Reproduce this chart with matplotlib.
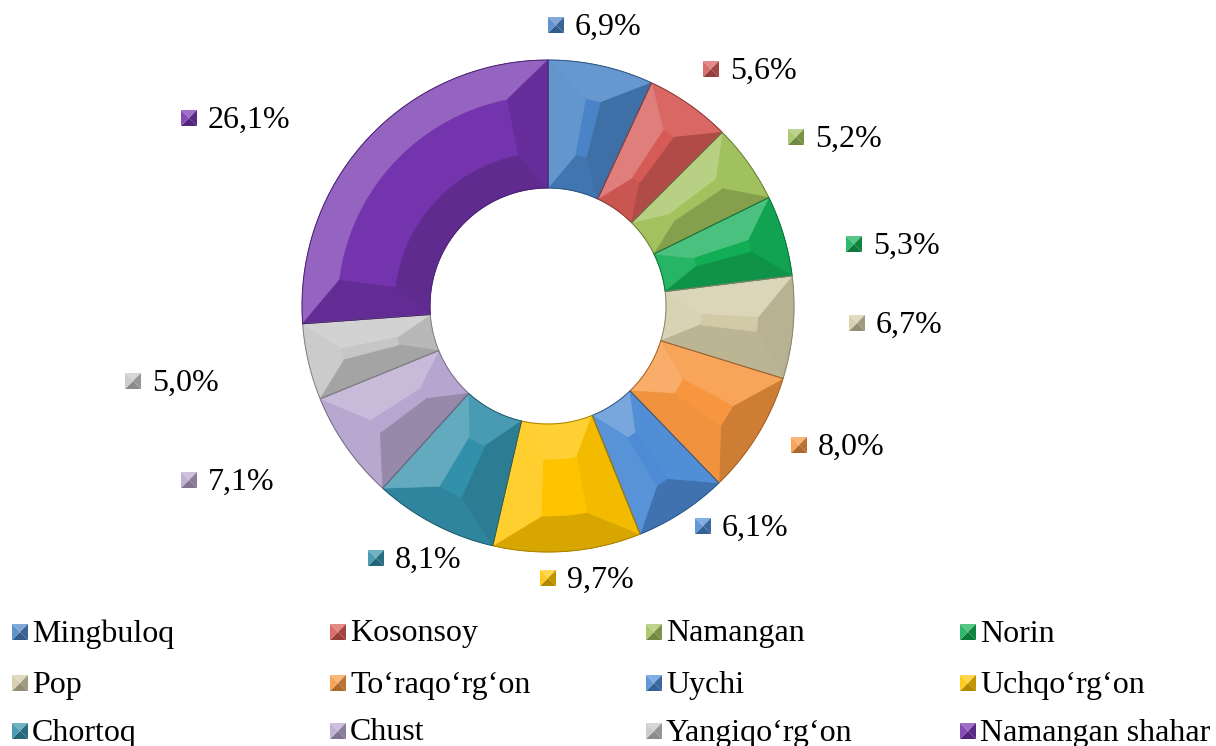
import numpy as np
import matplotlib.pyplot as plt
from matplotlib.patches import Polygon
from matplotlib.colors import to_rgb

plt.rcParams['font.family'] = ['Liberation Serif', 'DejaVu Serif']

# data
districts = ['Mingbuloq', 'Kosonsoy', 'Namangan', 'Norin', 'Pop', 'To‘raqo‘rg‘on',
             'Uychi', 'Uchqo‘rg‘on', 'Chortoq', 'Chust', 'Yangiqo‘rg‘on', 'Namangan shahar']
shares = [6.9, 5.6, 5.2, 5.3, 6.7, 8.0, 6.1, 9.7, 8.1, 7.1, 5.0, 26.1]
labels = ['6,9%', '5,6%', '5,2%', '5,3%', '6,7%', '8,0%', '6,1%', '9,7%', '8,1%', '7,1%', '5,0%', '26,1%']
colors = ['#4A84C6', '#D65B57', '#A2C25E', '#12AE56', '#D2CAA6', '#F7963F',
          '#4D8BD4', '#FFC400', '#3390AA', '#B7A6CF', '#C6C6C6', '#7434AE']

# layout (pixel coords, y from top)
W, H = 1216, 746
cx, cy = 548, 306
R_out, R_in = 246, 118
bev = 36
lab_pos = [(556, 25), (711, 69), (796, 137), (854, 244), (857, 323), (799, 445),
           (703, 526), (548, 578), (376, 558), (189, 480), (133, 381), (189, 118)]
leg_x = [20, 338, 654, 968]
leg_y = [632, 683, 731]
fs = 23

light = np.array([-0.6, 0.8])


def shade(c, s, up=0.24, down=0.18):
    c = np.array(to_rgb(c))
    if s > 0:
        return tuple(c + (1 - c) * s * up)
    return tuple(c * (1 + s * down))


def arc(r, a1, a2, n=40):
    t = np.radians(np.linspace(a1, a2, n))
    return np.column_stack([cx + r * np.cos(t), (H - cy) + r * np.sin(t)])


def bevel_wedge(ax, t1, t2, color):
    span = t2 - t1
    rm = (R_out + R_in) / 2
    a = min(np.degrees(bev / rm), 0.42 * span)
    ro, ri = R_out - bev, R_in + bev
    p1, p2 = t1 + a, t2 - a
    tm = np.radians((t1 + t2) / 2)
    r1, r2 = np.radians(t1), np.radians(t2)
    facets = [
        (np.vstack([arc(R_out, t1, t2), arc(ro, p2, p1)]), np.array([np.cos(tm), np.sin(tm)])),
        (np.vstack([arc(R_in, t1, t2), arc(ri, p2, p1)]), -np.array([np.cos(tm), np.sin(tm)])),
        (np.vstack([arc(R_out, t1, t1, 2)[:1], arc(R_in, t1, t1, 2)[:1],
                    arc(ri, p1, p1, 2)[:1], arc(ro, p1, p1, 2)[:1]]), np.array([np.sin(r1), -np.cos(r1)])),
        (np.vstack([arc(R_out, t2, t2, 2)[:1], arc(R_in, t2, t2, 2)[:1],
                    arc(ri, p2, p2, 2)[:1], arc(ro, p2, p2, 2)[:1]]), np.array([-np.sin(r2), np.cos(r2)])),
    ]
    for pts, n in facets:
        s = float(np.dot(n, light))
        ax.add_patch(Polygon(pts, closed=True, fc=shade(color, s), ec=shade(color, s), lw=0.5, zorder=3))
    if p2 > p1:
        top = np.vstack([arc(ro, p1, p2), arc(ri, p2, p1)])
        ax.add_patch(Polygon(top, closed=True, fc=color, ec=color, lw=0.5, zorder=3))


def bevel_square(ax, x, y, color, size=16):
    y = H - y
    h = size / 2
    c = [(x - h, y + h), (x + h, y + h), (x + h, y - h), (x - h, y - h)]
    m = (x, y)
    facet_s = [1.0, -0.8, -1.0, 0.4]
    for i in range(4):
        ax.add_patch(Polygon([c[i], c[(i + 1) % 4], m], closed=True,
                             fc=shade(color, facet_s[i], up=0.3, down=0.3), ec='none', zorder=4))


fig = plt.figure(figsize=(W / 100, H / 100), dpi=100)
ax = fig.add_axes([0, 0, 1, 1])

wedges, _ = ax.pie(shares, colors=colors, startangle=90, counterclock=False,
                   center=(cx, H - cy), radius=R_out,
                   wedgeprops=dict(width=R_out - R_in, linewidth=0))
for w, col in zip(wedges, colors):
    bevel_wedge(ax, w.theta1, w.theta2, col)
    # thin boundary
    ax.add_patch(Polygon(np.vstack([arc(R_out, w.theta1, w.theta2), arc(R_in, w.theta2, w.theta1)]),
                         closed=True, fc='none', ec=shade(col, -1, down=0.35), lw=0.7, zorder=5))

for (x, y), lab, col in zip(lab_pos, labels, colors):
    bevel_square(ax, x, y, col)
    ax.text(x + 19, H - y - 2, lab, fontsize=fs, va='center', ha='left', color='black')

for i, (name, col) in enumerate(zip(districts, colors)):
    x = leg_x[i % 4]
    y = leg_y[i // 4]
    bevel_square(ax, x, y, col)
    ax.text(x + 12, H - y - 2, name, fontsize=fs, va='center', ha='left', color='black')

ax.set_xlim(0, W)
ax.set_ylim(0, H)
ax.set_aspect('equal')
ax.axis('off')

fig.savefig('out.png', dpi=100)
